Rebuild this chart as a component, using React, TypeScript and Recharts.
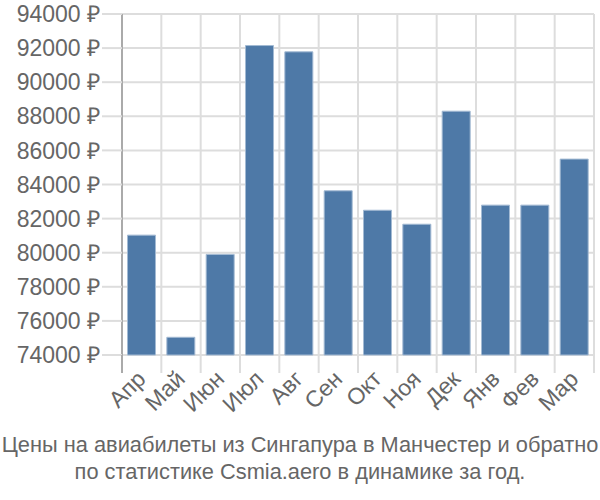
import { BarChart, Bar, XAxis, YAxis, CartesianGrid } from "recharts";

const months = ["Апр", "Май", "Июн", "Июл", "Авг", "Сен", "Окт", "Ноя", "Дек", "Янв", "Фев", "Мар"];
const prices = [81030, 75040, 79900, 92150, 91780, 83630, 82490, 81670, 88300, 82790, 82790, 85490];
const yTicks = [74000, 76000, 78000, 80000, 82000, 84000, 86000, 88000, 90000, 92000, 94000];
const titleLines = [
  "Цены на авиабилеты из Сингапура в Манчестер и обратно",
  "по статистике Csmia.aero в динамике за год.",
];

const data = months.map((m, i) => ({ month: m, price: prices[i] }));

const FONT = "'Liberation Sans', Arial, sans-serif";
const TEXT = "#666";
const GRID = "#dddddd";

function MonthTick(props: any) {
  const { x, y, payload, index } = props;
  const half = payload?.offset ?? 19.7;
  return (
    <g>
      <line x1={x - half} y1={y - 8} x2={x - half} y2={y + 10} stroke={index === 0 ? "#aaa" : GRID} strokeWidth={2} />
      {index === months.length - 1 && (
        <line x1={x + half} y1={y - 8} x2={x + half} y2={y + 10} stroke={GRID} strokeWidth={2} />
      )}
      <g transform={`translate(${x - 6},${y + 6})`}>
        <text
          textAnchor="end"
          transform="rotate(-45)"
          dy="0.7em"
          fill={TEXT}
          fontSize={23}
          fontFamily={FONT}
        >
          {payload.value}
        </text>
      </g>
    </g>
  );
}

export default function App() {
  return (
    <div style={{ width: 600, height: 500, position: "relative", background: "#fff" }}>
      <style>{`body{margin:0}`}</style>
      <BarChart
        width={600}
        height={420}
        data={data}
        margin={{ top: 14, right: 6, left: 0, bottom: 0 }}
        barCategoryGap="14%"
      >
        <CartesianGrid
          stroke={GRID}
          strokeWidth={2}
          verticalCoordinatesGenerator={({ offset }: any) =>
            months.map((_, i) => offset.left + (i * offset.width) / months.length).concat(offset.left + offset.width)
          }
        />
        <XAxis
          dataKey="month"
          interval={0}
          height={65}
          axisLine={false}
          tickLine={false}
          tick={<MonthTick />}
        />
        <YAxis
          width={122}
          domain={[74000, 94000]}
          ticks={yTicks}
          interval={0}
          tickSize={20}
          tickMargin={2}
          tickFormatter={(v: number) => `${v} ₽`}
          tick={{ fill: TEXT, fontSize: 23, fontFamily: FONT }}
          axisLine={{ stroke: "#aaa", strokeWidth: 2 }}
          tickLine={{ stroke: GRID, strokeWidth: 2 }}
        />
        <Bar dataKey="price" fill="#4e79a7" stroke="#a3bad3" strokeWidth={1} isAnimationActive={false} />
      </BarChart>
      <div
        style={{
          position: "absolute",
          top: 431,
          left: 0,
          width: 600,
          textAlign: "center",
          fontFamily: FONT,
          fontSize: 21.8,
          lineHeight: "27px",
          color: TEXT,
        }}
      >
        {titleLines.map((l) => (
          <div key={l} style={{ whiteSpace: "nowrap" }}>{l}</div>
        ))}
      </div>
    </div>
  );
}
